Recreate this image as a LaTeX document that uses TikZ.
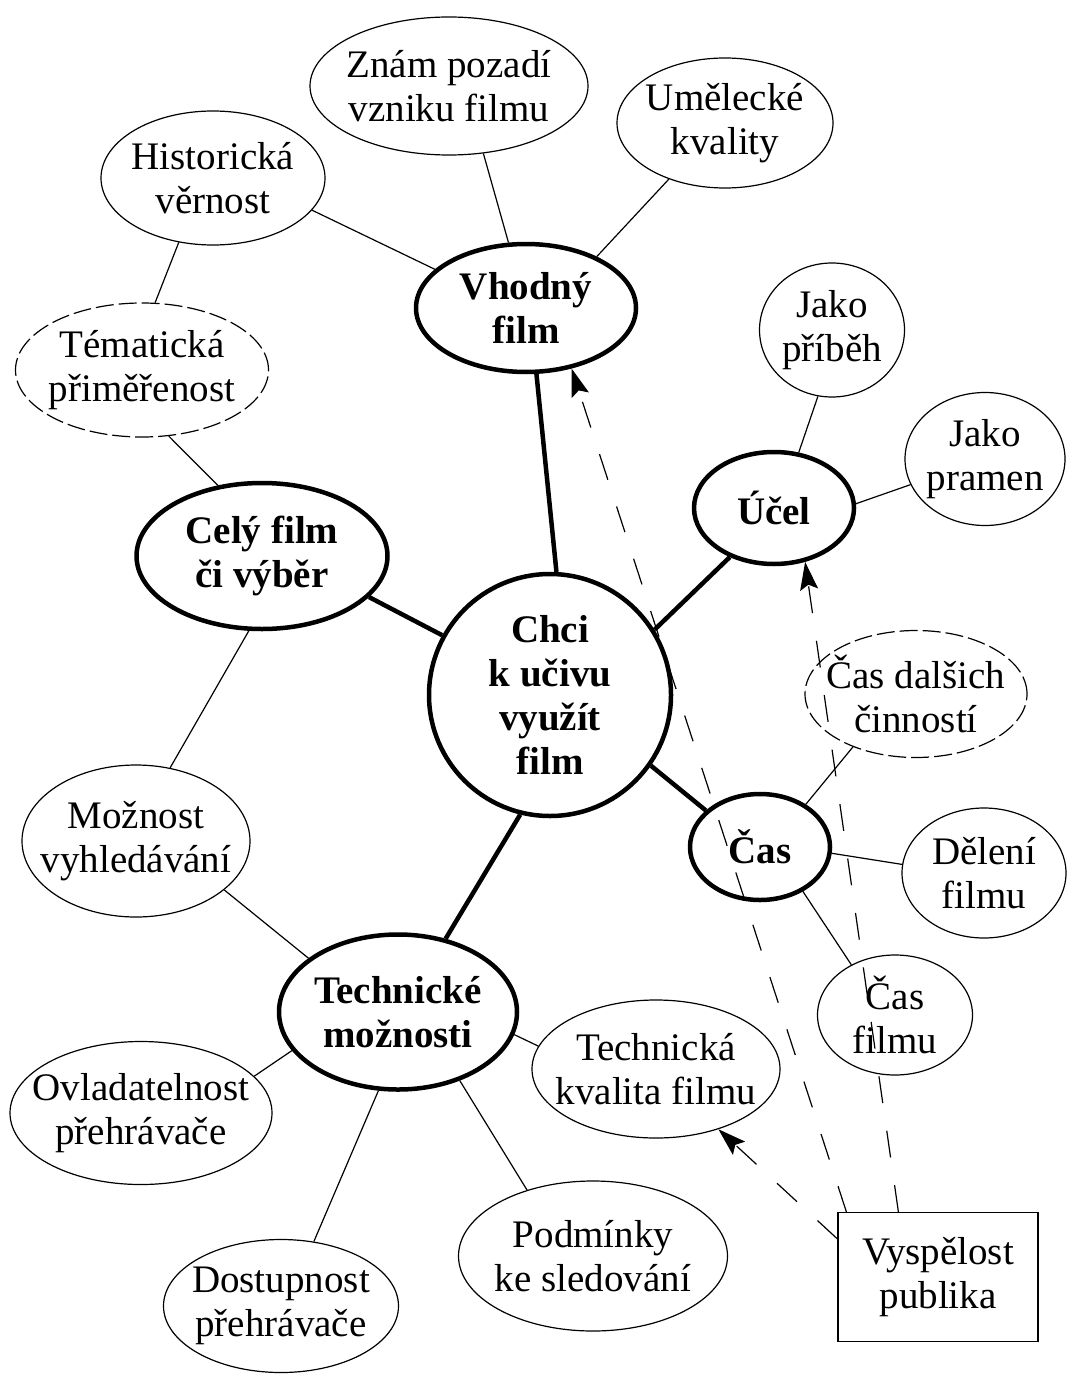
\documentclass[tikz,border=0pt]{standalone}
\usepackage{fontspec}
\setmainfont{Liberation Serif}
\usetikzlibrary{shapes.geometric,arrows.meta}

\begin{document}
\begin{tikzpicture}[
    x=1pt, y=-1pt,
    every node/.style={
        align=center,
        font=\fontsize{39}{44}\selectfont
    },
    leaf/.style 2 args={
        ellipse, draw,
        line width=1.2pt,
        inner xsep=-20pt, inner ysep=-10pt,
        minimum width=#1, minimum height=#2
    },
    hub/.style 2 args={
        ellipse, draw,
        line width=4.5pt,
        inner xsep=-20pt, inner ysep=-10pt,
        font=\fontsize{39}{44}\selectfont\bfseries,
        minimum width=#1, minimum height=#2
    },
    loose/.style={dash pattern=on 18pt off 5pt},
    bond/.style={line width=4.5pt},
    twig/.style={line width=1.2pt},
    vliv/.style={
        line width=1.2pt,
        dash pattern=on 27pt off 28pt,
        -{Stealth[length=28pt,width=18pt,inset=5pt]}
    }
]
\fill[white] (0,0) rectangle (1066,1375);

% centre and main branches
\node[hub={242pt}{242pt}] (chci) at (550,695) {Chci\\k učivu\\využít\\film};
\node[hub={220pt}{128pt}] (vhod) at (526,308) {Vhodný\\film};
\node[hub={251pt}{146pt}] (cely) at (262,556) {Celý film\\či výběr};
\node[hub={160pt}{112pt}] (ucel) at (774,508) {Účel};
\node[hub={140pt}{106pt}] (cas) at (760,847) {Čas};
\node[hub={238pt}{155pt}] (tech) at (398,1012) {Technické\\možnosti};

% leaves
\node[leaf={278pt}{138pt}] (znam) at (449,86) {Znám pozadí\\vzniku filmu};
\node[leaf={216pt}{130pt}] (umel) at (725,123) {Umělecké\\kvality};
\node[leaf={224pt}{134pt}] (hist) at (213,178) {Historická\\věrnost};
\node[leaf={253pt}{134pt}, loose] (tema) at (142,370) {Tématická\\přiměřenost};
\node[leaf={145pt}{134pt}] (pribeh) at (832,330) {Jako\\příběh};
\node[leaf={160pt}{133pt}] (pramen) at (985,459) {Jako\\pramen};
\node[leaf={222pt}{127pt}, loose] (casdal) at (916,694) {Čas dalšich\\činností};
\node[leaf={164pt}{130pt}] (deleni) at (984,873) {Dělení\\filmu};
\node[leaf={155pt}{120pt}] (casfilm) at (895,1015) {Čas\\filmu};
\node[leaf={228pt}{152pt}] (moz) at (136,841) {Možnost\\vyhledávání};
\node[leaf={262pt}{143pt}] (ovl) at (141,1113) {Ovladatelnost\\přehrávače};
\node[leaf={235pt}{133pt}] (dost) at (281,1306) {Dostupnost\\přehrávače};
\node[leaf={248pt}{138pt}] (kval) at (656,1069) {Technická\\kvalita filmu};
\node[leaf={269pt}{150pt}] (podm) at (593,1256) {Podmínky\\ke sledování};

\node[draw, line width=1.2pt, minimum width=200pt, minimum height=129pt,
      inner sep=0pt] (pub) at (938,1277) {Vyspělost\\publika};

% thick links
\draw[bond] (chci.87) -- (vhod.-81);
\draw[bond] (chci.32) -- (ucel.228);
\draw[bond] (chci.-35) -- (cas.146);
\draw[bond] (chci.256) -- (tech.57);
\draw[bond] (chci.151) -- (cely.-21);

% thin links
\draw[twig] (vhod.157) -- (hist.-18);
\draw[twig] (vhod.105) -- (znam.-63);
\draw[twig] (vhod.36) -- (umel.-135);
\draw[twig] (hist.-118) -- (tema.79);
\draw[twig] (tema.-68) -- (cely.122);
\draw[twig] (cely.-100) -- (moz.65);
\draw[twig] (tech.149) -- (moz.-29);
\draw[twig] (tech.200) -- (ovl.18);
\draw[twig] (tech.-104) -- (dost.63);
\draw[twig] (tech.-48) -- (podm.135);
\draw[twig] (tech.-11) -- (kval.169);
\draw[twig] (ucel.66) -- (pribeh.-102);
\draw[twig] (ucel.3) -- (pramen.199);
\draw[twig] (cas.43) -- (casdal.220);
\draw[twig] (cas.-5) -- (deleni.174);
\draw[twig] (cas.-46) -- (casfilm.131);

% dashed arrows from the box
\draw[vliv] ([xshift=9pt]pub.north west) -- (vhod.-53);
\draw[vliv] ([xshift=61pt]pub.north west) -- (ucel.-60);
\draw[vliv] ([yshift=-27pt]pub.north west) -- (kval.-44);
\end{tikzpicture}
\end{document}
